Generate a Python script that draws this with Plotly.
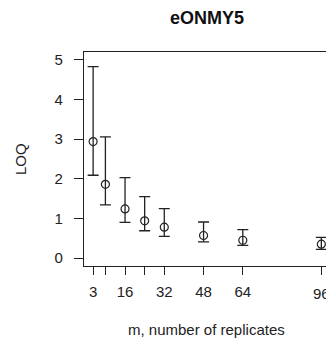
import plotly.graph_objects as go

m = [3, 8, 16, 24, 32, 48, 64, 96]
loq = [2.94, 1.86, 1.24, 0.94, 0.78, 0.57, 0.45, 0.35]
upper = [4.83, 3.06, 2.03, 1.55, 1.25, 0.91, 0.72, 0.52]
lower = [2.09, 1.34, 0.90, 0.69, 0.55, 0.41, 0.32, 0.22]
x_tickvals = [3, 8, 16, 24, 32, 48, 64, 96]
x_ticktext = ["3", "", "16", "", "32", "48", "64", ""]
edge_tick = 96
edge_label = "96"
y_tickvals = [0, 1, 2, 3, 4, 5]

plus = [u - v for u, v in zip(upper, loq)]
minus = [v - l for v, l in zip(loq, lower)]

ink = "#222222"
font = "Liberation Sans, Arial, sans-serif"

fig = go.Figure(go.Scatter(
    x=m, y=loq, mode="markers",
    marker=dict(symbol="circle-open", size=8, color=ink, line=dict(width=1.2, color=ink)),
    error_y=dict(type="data", symmetric=False, array=plus, arrayminus=minus,
                 width=5.5, thickness=1.3, color=ink),
    showlegend=False,
    cliponaxis=False,
))

W, H = 326, 341
L, T, B = 84, 52, 75
PH = H - T - B
fig.update_layout(
    width=W, height=H,
    margin=dict(l=L, r=0, t=T, b=B, pad=0),
    plot_bgcolor="white", paper_bgcolor="white",
    font=dict(family=font, size=15, color=ink),
    annotations=[
        dict(text="<b>eONMY5</b>", xref="paper", yref="paper", x=(206.5 - L) / (W - L),
             y=1 + (T - 18) / PH, xanchor="center", yanchor="middle",
             showarrow=False, font=dict(size=18, color="#111111")),
        dict(text="m, number of replicates", xref="paper", yref="paper",
             x=(206.5 - L) / (W - L), y=-(329 - (H - B)) / PH,
             xanchor="center", yanchor="middle", showarrow=False, font=dict(size=15)),
        dict(text="LOQ", xref="paper", yref="paper", x=-(L - 20) / (W - L),
             y=0.5, xanchor="center", yanchor="middle", textangle=-90,
             showarrow=False, font=dict(size=15)),
        dict(text=edge_label, xref="x", yref="paper", x=edge_tick,
             y=-(293 - (H - B)) / PH, xanchor="center", yanchor="middle",
             showarrow=False, font=dict(size=15)),
    ],
)
fig.update_xaxes(
    range=[-0.72, 97.9], tickvals=x_tickvals, ticktext=x_ticktext,
    showgrid=False, zeroline=False, showline=True, mirror=True,
    linecolor=ink, linewidth=1.2, ticks="outside", ticklen=8, tickwidth=1.2,
    tickcolor=ink, ticklabelstandoff=4, automargin=False,
)
fig.update_yaxes(
    range=[-0.2, 5.2], tickvals=y_tickvals,
    showgrid=False, zeroline=False, showline=True, mirror=False,
    linecolor=ink, linewidth=1.2, ticks="outside", ticklen=9, tickwidth=1.2,
    tickcolor=ink, ticklabelstandoff=8, automargin=False,
)
fig.write_html(
    "out.html",
    config={"displayModeBar": False},
    post_script="document.body.style.margin='0';document.body.style.overflow='hidden';",
)
